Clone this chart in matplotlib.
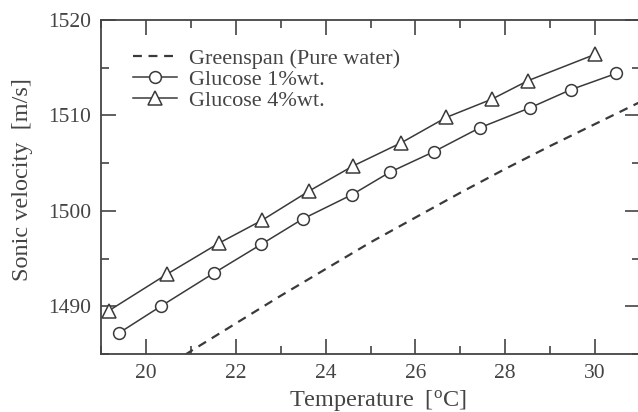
import matplotlib
matplotlib.use("Agg")
import matplotlib.pyplot as plt
from matplotlib.ticker import MultipleLocator

plt.rcParams['font.family'] = ['Liberation Serif', 'DejaVu Serif']
plt.rcParams['mathtext.fontset'] = 'custom'
plt.rcParams['mathtext.rm'] = 'Liberation Serif'
plt.rcParams['mathtext.it'] = 'Liberation Serif:italic'

# Greenspan (pure water)
green_t = [20, 21, 22, 23, 24, 25, 26, 27, 28, 29, 30, 31]
green_v = [1482.3, 1485.3, 1488.2, 1491.1, 1493.9, 1496.7, 1499.3, 1501.9, 1504.4, 1506.8, 1509.1, 1511.4]

# Glucose 1%wt.
g1_t = [19.40, 20.33, 21.52, 22.57, 23.49, 24.59, 25.43, 26.41, 27.43, 28.55, 29.46, 30.47]
g1_v = [1487.2, 1490.0, 1493.5, 1496.5, 1499.15, 1501.7, 1504.05, 1506.2, 1508.7, 1510.8, 1512.7, 1514.4]

# Glucose 4%wt.
g4_t = [19.18, 20.48, 21.62, 22.58, 23.64, 24.61, 25.69, 26.69, 27.70, 28.51, 30.0]
g4_v = [1489.55, 1493.4, 1496.6, 1499.0, 1502.1, 1504.7, 1507.15, 1509.8, 1511.7, 1513.65, 1516.4]

labels = ['Greenspan (Pure water)', 'Glucose 1%wt.', 'Glucose 4%wt.']

W, H = 638, 412
fig = plt.figure(figsize=(W / 100, H / 100), dpi=100)
ax = fig.add_axes([101 / W, (H - 354) / H, (640 - 101) / W, (354 - 20) / H])

c = '#3a3a3a'
tc = '#444444'
ax.plot(green_t, green_v, linestyle=(0, (4, 3)), color=c, lw=1.6, label=labels[0])
ax.plot(g1_t, g1_v, '-o', color=c, lw=1.1, ms=8.5, mfc='white', mec=c, mew=1.1, label=labels[1])
ax.plot(g4_t, g4_v, '-^', color=c, lw=1.1, ms=10, mfc='white', mec=c, mew=1.1, label=labels[2])

ax.set_xlim(19, 31)
ax.set_ylim(1485, 1520)
ax.xaxis.set_major_locator(MultipleLocator(2))
ax.xaxis.set_minor_locator(MultipleLocator(1))
ax.yaxis.set_major_locator(MultipleLocator(10))
ax.yaxis.set_minor_locator(MultipleLocator(5))

ax.tick_params(which='both', direction='in', top=True, right=True, color=tc,
               labelcolor=tc, labelsize=15.5, width=1.2)
ax.tick_params(which='major', length=10.5, pad=7)
ax.tick_params(which='minor', length=5.5)
for s in ax.spines.values():
    s.set_color(tc)
    s.set_linewidth(1.3)

ax.set_xlabel('Temperature  [$^{\\mathrm{o}}$C]', fontsize=17.5, color=tc)
ax.xaxis.set_label_coords((378 - 101) / 539, -(406 - 354) / 334, transform=ax.transAxes)
ax.xaxis.label.set_va('baseline')
ax.set_ylabel('Sonic velocity  [m/s]', fontsize=17.5, color=tc)
ax.yaxis.set_label_coords(-(101 - 22) / 539, (354 - 180) / 334, transform=ax.transAxes)
ax.yaxis.label.set_va('center')

leg = ax.legend(loc='upper left', bbox_to_anchor=((133 - 101) / 539, (354 - 48) / 334),
                frameon=False, fontsize=16, handlelength=2.0, handletextpad=0.5,
                labelspacing=0.02, borderaxespad=0, borderpad=0)
for t in leg.get_texts():
    t.set_color(tc)

fig.savefig('out.png', dpi=100)
